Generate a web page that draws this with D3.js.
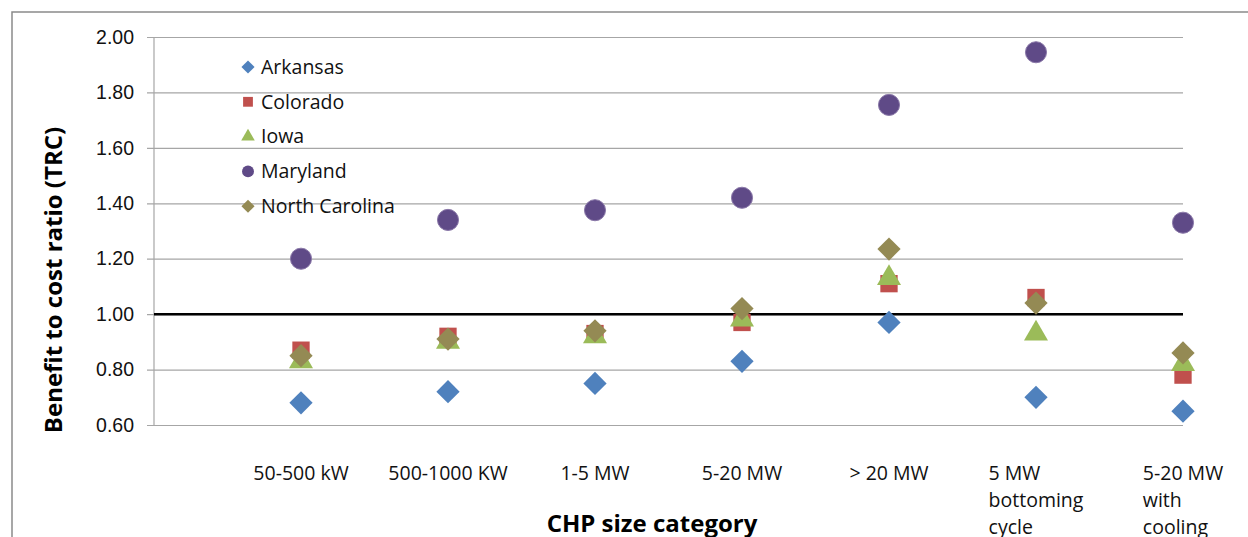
<!DOCTYPE html>
<html>
<head>
<meta charset="utf-8">
<script src="https://cdn.jsdelivr.net/npm/d3@7"></script>
<style>
  body { margin: 0; background: #fff; }
  svg { display: block; font-family: "Open Sans", "Liberation Sans", sans-serif; }
</style>
</head>
<body>
<svg width="1248" height="537"></svg>
<script>
const categories = ['50-500 kW', '500-1000 KW', '1-5 MW', '5-20 MW', '> 20 MW',
  '5 MW bottoming cycle', '5-20 MW with cooling']

const arkansas = [0.68, 0.72, 0.75, 0.83, 0.97, 0.70, 0.65]
const colorado = [0.87, 0.92, 0.93, 0.97, 1.11, 1.06, 0.78]
const iowa = [0.83, 0.90, 0.92, 0.98, 1.13, 0.93, 0.82]
const maryland = [1.20, 1.34, 1.375, 1.42, 1.755, 1.945, 1.33]
const northCarolina = [0.85, 0.91, 0.94, 1.02, 1.235, 1.04, 0.86]

const yTicks = [0.6, 0.8, 1.0, 1.2, 1.4, 1.6, 1.8, 2.0]

const series = [
  { name: 'Arkansas', values: arkansas, color: '#4F81BD', shape: 'diamond' },
  { name: 'Colorado', values: colorado, color: '#C0504D', shape: 'square' },
  { name: 'Iowa', values: iowa, color: '#9BBB59', shape: 'triangle' },
  { name: 'Maryland', values: maryland, color: '#5F4A87', shape: 'circle' },
  { name: 'North Carolina', values: northCarolina, color: '#948A54', shape: 'diamond' }
]

const svg = d3.select('svg')
const margin = { left: 154, top: 37, right: 65, bottom: 112 }
const width = +svg.attr('width')
const height = +svg.attr('height')
const labelSize = 19.5

// outer chart frame (only top and left edges are inside the picture)
svg.append('path')
  .attr('d', `M12,${height} V12 H${width}`)
  .attr('fill', 'none')
  .attr('stroke', '#8a8a8a')
  .attr('stroke-width', 1.5)

const x = d3.scaleLinear()
  .domain([0, categories.length])
  .range([margin.left, width - margin.right])

const y = d3.scaleLinear()
  .domain([0.6, 2.0])
  .range([height - margin.bottom, margin.top])

// gridlines + ticks
const yAxis = d3.axisLeft(y)
  .tickValues(yTicks)
  .tickFormat(d3.format('.2f'))
  .tickSize(-(x.range()[1] - x.range()[0]))

const gy = svg.append('g')
  .attr('transform', `translate(${margin.left},0)`)
  .call(yAxis)

gy.select('.domain').remove()
gy.selectAll('.tick line')
  .attr('stroke', '#a6a6a6')
  .attr('stroke-width', 1.2)
  .attr('x1', -7)
gy.selectAll('.tick text')
  .attr('font-size', labelSize)
  .attr('fill', '#111')
  .attr('x', -20)

svg.append('line')
  .attr('x1', margin.left).attr('x2', margin.left)
  .attr('y1', y(2.0)).attr('y2', y(0.6))
  .attr('stroke', '#a6a6a6')
  .attr('stroke-width', 1.2)

// break-even line
svg.append('line')
  .attr('x1', x(0)).attr('x2', x(categories.length))
  .attr('y1', y(1)).attr('y2', y(1))
  .attr('stroke', '#000')
  .attr('stroke-width', 2.5)

// x category labels, wrapped like Excel does
const wrapLines = (label) => {
  if (label === '5 MW bottoming cycle') return ['5 MW', 'bottoming', 'cycle']
  if (label === '5-20 MW with cooling') return ['5-20 MW', 'with', 'cooling']
  return [label]
}

categories.forEach((c, i) => {
  const lines = wrapLines(c)
  const t = svg.append('text')
    .attr('font-size', labelSize)
    .attr('fill', '#111')
  lines.forEach((l, j) => {
    t.append('tspan')
      .attr('x', 0)
      .attr('dy', j === 0 ? 0 : 27)
      .text(l)
  })
  const w = d3.max(t.selectAll('tspan').nodes(), n => n.getComputedTextLength())
  t.attr('transform', `translate(${x(i + 1) - w / 2},${height - margin.bottom + 55})`)
})

// axis titles
svg.append('text')
  .attr('transform', `translate(62,280) rotate(-90)`)
  .attr('text-anchor', 'middle')
  .attr('font-size', 24)
  .attr('font-weight', 'bold')
  .attr('fill', '#000')
  .text('Benefit to cost ratio (TRC)')

svg.append('text')
  .attr('x', 652)
  .attr('y', 532)
  .attr('text-anchor', 'middle')
  .attr('font-size', 24)
  .attr('font-weight', 'bold')
  .attr('fill', '#000')
  .text('CHP size category')

// markers
const symbolFor = (shape, big) => {
  const s = big ? 1 : 0.32
  if (shape === 'diamond') return d3.symbol(d3.symbolSquare, 270 * s)()
  if (shape === 'square') return d3.symbol(d3.symbolSquare, 300 * s)()
  if (shape === 'triangle') return d3.symbol(d3.symbolTriangle, 250 * s)()
  return d3.symbol(d3.symbolCircle, 350 * s)()
}

series.forEach(s => {
  svg.append('g')
    .selectAll('path')
    .data(s.values)
    .enter().append('path')
      .attr('d', symbolFor(s.shape, true))
      .attr('transform', (d, i) =>
        `translate(${x(i + 1)},${y(d)})` + (s.shape === 'diamond' ? ' rotate(45)' : ''))
      .attr('fill', s.color)
      .attr('stroke', s.shape === 'circle' ? '#8a78a8' : 'none')
      .attr('stroke-width', 1)
})

// legend
const legend = svg.append('g')
  .selectAll('g')
  .data(series)
  .enter().append('g')
    .attr('transform', (d, i) => `translate(248,${67 + i * 34.8})`)

legend.append('path')
  .attr('d', d => symbolFor(d.shape, false))
  .attr('transform', d => d.shape === 'diamond' ? 'rotate(45)' : null)
  .attr('fill', d => d.color)

legend.append('text')
  .attr('x', 13)
  .attr('dy', '0.35em')
  .attr('font-size', labelSize)
  .attr('fill', '#111')
  .text(d => d.name)
</script>
</body>
</html>
